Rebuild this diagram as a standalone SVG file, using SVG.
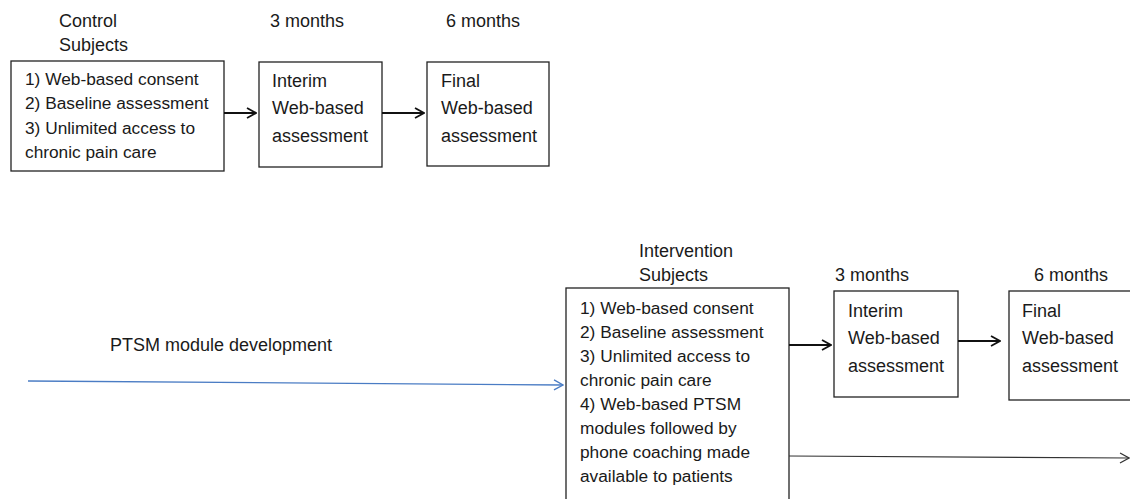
<svg xmlns="http://www.w3.org/2000/svg" width="1130" height="499" viewBox="0 0 1130 499">
<style>
text{font-family:"Liberation Sans",Arial,sans-serif;font-size:18px;fill:#1a1a1a}
.b{font-size:17.3px}
.box{fill:#fff;stroke:#222;stroke-width:1.3}
.conn{fill:none;stroke:#111;stroke-width:2}
.thin{fill:none;stroke:#333;stroke-width:1.2}
.blue{fill:none;stroke:#4a7cc4;stroke-width:1.3}
</style>
<defs>
<marker id="ah" viewBox="0 0 12 12" refX="11" refY="6" markerWidth="12" markerHeight="12" markerUnits="userSpaceOnUse" orient="auto">
<path d="M2,1 L11,6 L2,11" fill="none" stroke="#111" stroke-width="1.8"/>
</marker>
<marker id="ahb" viewBox="0 0 12 12" refX="11" refY="6" markerWidth="12" markerHeight="12" markerUnits="userSpaceOnUse" orient="auto">
<path d="M2,1 L11,6 L2,11" fill="none" stroke="#4a7cc4" stroke-width="1.3"/>
</marker>
<marker id="aht" viewBox="0 0 12 12" refX="11" refY="6" markerWidth="12" markerHeight="12" markerUnits="userSpaceOnUse" orient="auto">
<path d="M2,1 L11,6 L2,11" fill="none" stroke="#333" stroke-width="1.2"/>
</marker>
</defs>
<g id="labels">
<text x="59" y="27">Control</text>
<text x="59" y="51">Subjects</text>
<text x="270" y="27">3 months</text>
<text x="446" y="27">6 months</text>
<text x="639" y="257">Intervention</text>
<text x="639" y="281">Subjects</text>
<text x="835" y="281">3 months</text>
<text x="1034" y="281">6 months</text>
<text x="110" y="351">PTSM module development</text>
</g>
<g id="control-start">
<rect class="box" x="11" y="61" width="213" height="110"/>
<text class="b" x="25" y="85">1) Web-based consent</text>
<text class="b" x="25" y="109">2) Baseline assessment</text>
<text class="b" x="25" y="134">3) Unlimited access to</text>
<text class="b" x="25" y="158">chronic pain care</text>
</g>
<g id="control-interim">
<rect class="box" x="259" y="62" width="123" height="105"/>
<text x="272" y="87">Interim</text>
<text x="272" y="114">Web-based</text>
<text x="272" y="142">assessment</text>
</g>
<g id="control-final">
<rect class="box" x="427" y="62" width="122" height="104"/>
<text x="441" y="87">Final</text>
<text x="441" y="114">Web-based</text>
<text x="441" y="142">assessment</text>
</g>
<g id="intervention-start">
<rect class="box" x="566" y="288" width="223" height="215"/>
<text class="b" x="580" y="314">1) Web-based consent</text>
<text class="b" x="580" y="338">2) Baseline assessment</text>
<text class="b" x="580" y="362">3) Unlimited access to</text>
<text class="b" x="580" y="386">chronic pain care</text>
<text class="b" x="580" y="410">4) Web-based PTSM</text>
<text class="b" x="580" y="434">modules followed by</text>
<text class="b" x="580" y="458">phone coaching made</text>
<text class="b" x="580" y="482">available to patients</text>
</g>
<g id="intervention-interim">
<rect class="box" x="834" y="291" width="124" height="106"/>
<text x="848" y="317">Interim</text>
<text x="848" y="344">Web-based</text>
<text x="848" y="372">assessment</text>
</g>
<g id="intervention-final">
<rect class="box" x="1009" y="291" width="125" height="109"/>
<text x="1022" y="317">Final</text>
<text x="1022" y="344">Web-based</text>
<text x="1022" y="372">assessment</text>
</g>
<g id="connectors">
<line class="conn" x1="224" y1="113" x2="256" y2="113" marker-end="url(#ah)"/>
<line class="conn" x1="382" y1="113" x2="424" y2="113" marker-end="url(#ah)"/>
<line class="conn" x1="789" y1="345" x2="831" y2="345" marker-end="url(#ah)"/>
<line class="conn" x1="958" y1="341" x2="1000" y2="341" marker-end="url(#ah)"/>
<line class="blue" x1="28" y1="381" x2="563" y2="385" marker-end="url(#ahb)"/>
<line class="thin" x1="789" y1="456" x2="1129" y2="458" marker-end="url(#aht)"/>
</g>
</svg>
